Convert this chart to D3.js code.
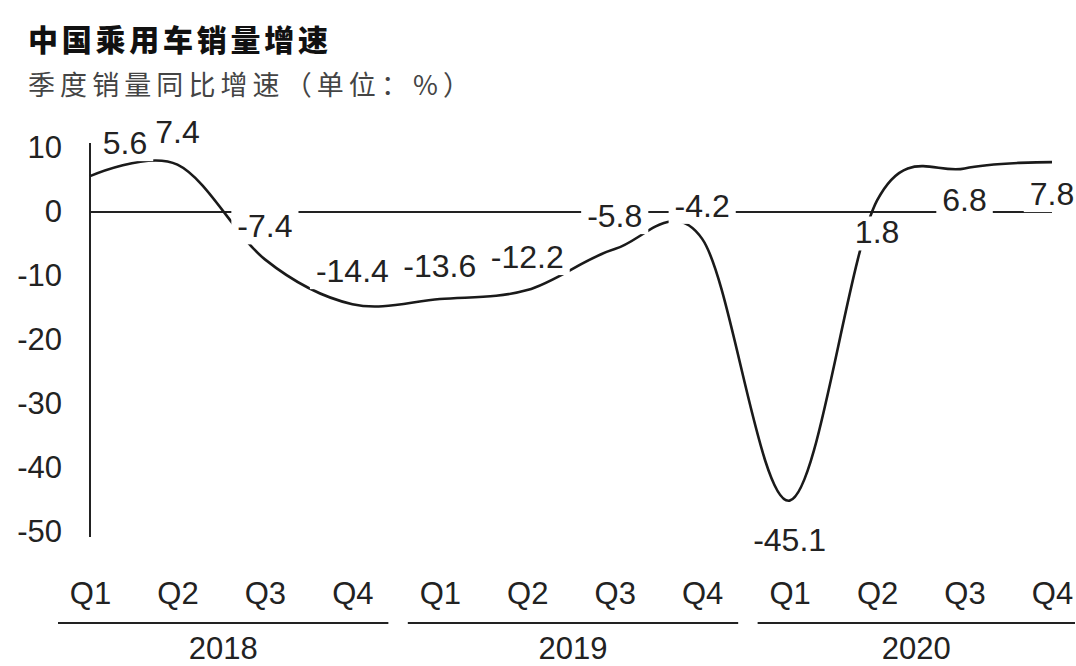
<!DOCTYPE html>
<html>
<head>
<meta charset="utf-8">
<script src="https://cdn.jsdelivr.net/npm/d3@7"></script>
<style>
  html, body { margin: 0; padding: 0; background: #ffffff; }
  svg { display: block; }
</style>
</head>
<body>
<svg id="chart" width="1076" height="666"></svg>
<script>
// ---- data ----
const title = "中国乘用车销量增速";
const subtitle = "季度销量同比增速（单位：%）";
const quarters = ["Q1","Q2","Q3","Q4","Q1","Q2","Q3","Q4","Q1","Q2","Q3","Q4"];
const years = ["2018","2019","2020"];
const values = [5.6, 7.4, -7.4, -14.4, -13.6, -12.2, -5.8, -4.2, -45.1, 1.8, 6.8, 7.8];
const yTicks = [10, 0, -10, -20, -30, -40, -50];
const labelSide = ["above","above","above","above","above","above","above","above","below","below","below","below"];

// ---- layout ----
const W = 1076, H = 666;
const svg = d3.select("#chart");
const numFont = "'Liberation Sans', Arial, sans-serif";
const cjkFont = "'Noto Sans CJK SC', sans-serif";
const ink = "#222";

const x = d3.scalePoint().domain(d3.range(values.length)).range([90, 1052]);
const y = d3.scaleLinear().domain([-50, 10]).range([532, 148]);

// title + subtitle
svg.append("text")
  .attr("x", 28).attr("y", 38)
  .attr("dominant-baseline", "central")
  .attr("font-family", cjkFont).attr("font-weight", 900)
  .attr("font-size", 30).attr("fill", "#111")
  .attr("textLength", 300).attr("lengthAdjust", "spacing")
  .text(title);

svg.append("text")
  .attr("x", 28).attr("y", 83)
  .attr("dominant-baseline", "central")
  .attr("font-family", cjkFont).attr("font-weight", 400)
  .attr("font-size", 27).attr("fill", "#444")
  .attr("textLength", 442).attr("lengthAdjust", "spacing")
  .text(subtitle);

// y axis (labels only) + axis line
const yAxis = d3.axisLeft(y).tickValues(yTicks).tickSize(0).tickPadding(28)
  .tickFormat(d => String(d));
const gy = svg.append("g").attr("transform", "translate(90,0)").call(yAxis);
gy.select(".domain").remove();
gy.selectAll("text")
  .attr("font-family", numFont).attr("font-size", 31).attr("fill", ink);

svg.append("line")
  .attr("x1", 90).attr("x2", 90)
  .attr("y1", y(10) - 5).attr("y2", y(-50) + 5)
  .attr("stroke", ink).attr("stroke-width", 2);

// zero line
svg.append("line")
  .attr("x1", 90).attr("x2", x(values.length - 1))
  .attr("y1", y(0)).attr("y2", y(0))
  .attr("stroke", ink).attr("stroke-width", 2);

// series line (uniform Catmull-Rom smoothing)
const line = d3.line()
  .x((d, i) => x(i))
  .y(d => y(d))
  .curve(d3.curveCatmullRom.alpha(0));

svg.append("path")
  .datum(values)
  .attr("d", line)
  .attr("fill", "none")
  .attr("stroke", "#1a1a1a")
  .attr("stroke-width", 2.6);

// data labels with white boxes
const lg = svg.append("g");
values.forEach((v, i) => {
  const px = x(i), py = y(v);
  let cx = px, cy;
  if (labelSide[i] === "above") cy = py - 33;
  else cy = py + (v < -30 ? 39 : 32);
  if (i === 0) cx = px + 35;
  const g = lg.append("g");
  const rect = g.append("rect").attr("fill", "#fff");
  const t = g.append("text")
    .attr("x", cx).attr("y", cy)
    .attr("text-anchor", "middle")
    .attr("dominant-baseline", "central")
    .attr("font-family", numFont).attr("font-size", 32).attr("fill", ink)
    .text(String(v));
  const bb = t.node().getBBox();
  rect.attr("x", bb.x - 6).attr("y", bb.y + 2)
    .attr("width", bb.width + 12).attr("height", bb.height - 2);
});

// x axis quarter labels
const xAxis = d3.axisBottom(x).tickSize(0).tickPadding(0).tickFormat(i => quarters[i]);
const gx = svg.append("g").attr("transform", "translate(0,582)").call(xAxis);
gx.select(".domain").remove();
gx.selectAll("text")
  .attr("font-family", numFont).attr("font-size", 31).attr("fill", ink);

// year groups
years.forEach((yr, k) => {
  const i0 = k * 4, i1 = k * 4 + 3;
  const xa = x(i0) - 32, xb = Math.min(x(i1) + 36, W - 1);
  svg.append("line")
    .attr("x1", xa).attr("x2", xb)
    .attr("y1", 623).attr("y2", 623)
    .attr("stroke", ink).attr("stroke-width", 2);
  svg.append("text")
    .attr("x", (xa + xb) / 2).attr("y", 659)
    .attr("text-anchor", "middle")
    .attr("font-family", numFont).attr("font-size", 31).attr("fill", ink)
    .text(yr);
});
</script>
</body>
</html>
